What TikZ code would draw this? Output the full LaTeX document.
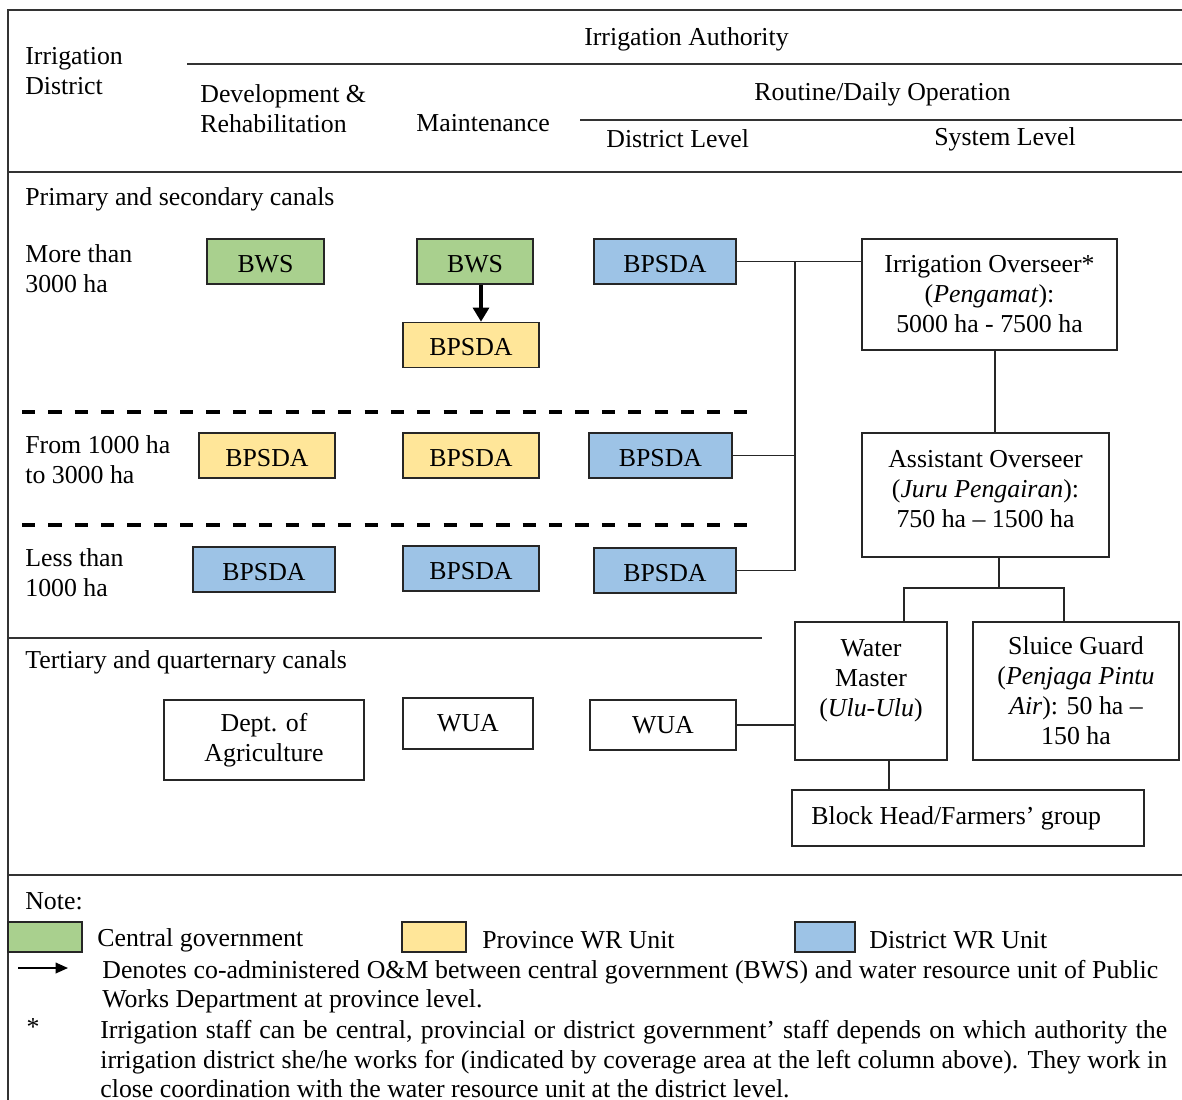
\documentclass[tikz,border=0pt]{standalone}
\usepackage{fontspec}
\setmainfont{Liberation Serif}
\usepackage{xcolor}
\usetikzlibrary{arrows.meta}
\definecolor{centralgreen}{HTML}{A9D08E}
\definecolor{provinceyellow}{HTML}{FFE699}
\definecolor{districtblue}{HTML}{9DC3E6}
\tikzset{
  unitnode/.style={rectangle,draw=black!85,line width=0.9pt,
    minimum height=0.9cm,inner sep=1pt,text height=12pt,text depth=0pt},
  centralnode/.style={unitnode,fill=centralgreen},
  provincenode/.style={unitnode,fill=provinceyellow},
  districtnode/.style={unitnode,fill=districtblue},
  staffnode/.style={rectangle,draw=black!85,line width=0.9pt,
    inner sep=1pt,align=center},
  textnode/.style={inner sep=0pt,align=left,yshift=-0.04cm},
  linkedge/.style={line width=0.9pt,black!85},
  ruleedge/.style={line width=1.1pt,black!80},
  bandedge/.style={line width=2.2pt,black,dash pattern=on 7.5pt off 7.5pt},
  coedge/.style={line width=2.2pt,-{Triangle[length=8pt,width=9pt]}},
  keyedge/.style={line width=1pt,-{Triangle[length=7pt,width=6pt]}}
}

\begin{document}
\begin{tikzpicture}[x=0.02cm,y=-0.02cm,font=\fontsize{14.7pt}{17.07pt}\selectfont]
  \useasboundingbox (0,0) rectangle (1182,1099);
  \clip (0,0) rectangle (1182,1099);

  \draw[ruleedge] (1200,10) -- (8,10) -- (8,1120);
  \draw[ruleedge] (187,64) -- (1200,64);
  \draw[ruleedge] (580,120) -- (1200,120);
  \draw[ruleedge] (8,172) -- (1200,172);
  \draw[ruleedge] (8,638) -- (762,638);
  \draw[ruleedge] (8,875) -- (1200,875);
  \draw[bandedge] (22,412) -- (752,412);
  \draw[bandedge] (22,525) -- (752,525);

  \node[textnode,anchor=west] (district) at (25,69.5) {Irrigation\\District};
  \node[textnode] (authority) at (686.5,37) {Irrigation Authority};
  \node[textnode,anchor=west] (develop) at (200,107) {Development \&\\Rehabilitation};
  \node[textnode,anchor=west] (maint) at (416,121) {Maintenance};
  \node[textnode] (routine) at (882.5,92) {Routine/Daily Operation};
  \node[textnode,anchor=west] (distlevel) at (606,137) {District Level};
  \node[textnode,anchor=west] (syslevel) at (934,137) {System Level};

  \node[textnode,anchor=west] (primary) at (25,197) {Primary and secondary canals};
  \node[textnode,anchor=west] (more) at (25,266.5) {More than\\3000 ha};
  \node[textnode,anchor=west] (from) at (25,457.5) {From 1000 ha\\to 3000 ha};
  \node[textnode,anchor=west] (less) at (25,570.5) {Less than\\1000 ha};
  \node[textnode,anchor=west] (tertiary) at (25,660) {Tertiary and quarternary canals};

  \node[centralnode,minimum width=2.34cm] (b11) at (265.5,261.5) {BWS};
  \node[centralnode,minimum width=2.32cm] (b12) at (475,261.5) {BWS};
  \node[provincenode,minimum width=2.72cm] (b12p) at (471,345) {BPSDA};
  \node[districtnode,minimum width=2.84cm] (b13) at (665,261.5) {BPSDA};
  \node[provincenode,minimum width=2.72cm] (b21) at (267,455.5) {BPSDA};
  \node[provincenode,minimum width=2.72cm] (b22) at (471,455.5) {BPSDA};
  \node[districtnode,minimum width=2.86cm] (b23) at (660.5,455.5) {BPSDA};
  \node[districtnode,minimum width=2.84cm] (b31) at (264,569.5) {BPSDA};
  \node[districtnode,minimum width=2.72cm] (b32) at (471,568.5) {BPSDA};
  \node[districtnode,minimum width=2.84cm] (b33) at (665,570.5) {BPSDA};

  \node[staffnode,minimum width=4cm,minimum height=1.6cm] (agri) at (264,740) {Dept. of\\Agriculture};
  \node[staffnode,minimum width=2.6cm,minimum height=1.02cm] (w2) at (468,723.5) {WUA};
  \node[staffnode,minimum width=2.92cm,minimum height=1cm] (w3) at (663,725) {WUA};

  \node[staffnode,minimum width=5.1cm,minimum height=2.22cm] (overseer) at (989.5,294.5)
    {Irrigation Overseer*\\(\textit{Pengamat}):\\5000 ha - 7500 ha};
  \node[staffnode,minimum width=4.94cm,minimum height=2.48cm] (assist) at (985.5,495) {};
  \node[textnode,align=center] (assisttxt) at (985.5,487)
    {Assistant Overseer\\(\textit{Juru Pengairan}):\\750 ha -- 1500 ha};
  \node[staffnode,minimum width=3.04cm,minimum height=2.76cm] (water) at (871,691) {};
  \node[textnode,align=center] (watertxt) at (871,678.5) {Water\\Master\\(\textit{Ulu-Ulu})};
  \node[staffnode,minimum width=4.12cm,minimum height=2.76cm] (sluice) at (1076,691)
    {Sluice Guard\\(\textit{Penjaga Pintu}\\\textit{Air}): 50 ha --\\150 ha};
  \node[staffnode,minimum width=7.04cm,minimum height=1.12cm] (block) at (968,818) {};
  \node[textnode,anchor=west] (blocktxt) at (811,816) {Block Head/Farmers’ group};

  \coordinate (trunk) at (795,0);
  \coordinate (fork) at (999,588);
  \draw[coedge] ([xshift=0.12cm]b12.south) -- ([xshift=0.12cm]b12.south |- b12p.north);
  \draw[linkedge] (b13.east) -- (b13.east -| overseer.west);
  \draw[linkedge] (b23.east) -- (b23.east -| trunk);
  \draw[linkedge] (b33.east) -| (trunk |- b13.east);
  \draw[linkedge] ([xshift=0.11cm]overseer.south) -- ([xshift=0.11cm]overseer.south |- assist.north);
  \draw[linkedge] (fork |- assist.south) -- (fork);
  \draw[linkedge] (fork) -| ([xshift=0.66cm]water.north);
  \draw[linkedge] (fork) -| ([xshift=-0.24cm]sluice.north);
  \draw[linkedge] (w3.east) -- (w3.east -| water.west);
  \draw[linkedge] ([xshift=0.36cm]water.south) -- ([xshift=0.36cm]water.south |- block.north);

  \node[textnode,anchor=west] (note) at (25,899) {Note:};
  \node[centralnode,minimum width=1.48cm,minimum height=0.6cm] (keycentral) at (45,937) {};
  \node[textnode,anchor=west] (keycentraltxt) at (97,938) {Central government};
  \node[provincenode,minimum width=1.28cm,minimum height=0.6cm] (keyprov) at (434,937) {};
  \node[textnode,anchor=west] (keyprovtxt) at (482,938) {Province WR Unit};
  \node[districtnode,minimum width=1.2cm,minimum height=0.6cm] (keydist) at (825,937) {};
  \node[textnode,anchor=west] (keydisttxt) at (869,938) {District WR Unit};
  \coordinate (keytail) at (18,968);
  \coordinate (keyhead) at (68,968);
  \draw[keyedge] (keytail) -- (keyhead);
  \node[textnode,anchor=west] (coline) at (102,970)
    {\makebox[21.12cm][s]{Denotes co-administered O\&M between central government (BWS) and water resource unit of Public}};
  \node[textnode,anchor=west] (colinetwo) at (102,999) {Works Department at province level.};
  \node[textnode] (star) at (33,1025) {*};
  \node[textnode,anchor=west] (staffline) at (100,1030)
    {\makebox[21.34cm][s]{Irrigation staff can be central, provincial or district government' staff depends on which authority the}};
  \node[textnode,anchor=west] (stafflinetwo) at (100,1060)
    {\makebox[21.34cm][s]{irrigation district she/he works for (indicated by coverage area at the left column above). They work in}};
  \node[textnode,anchor=west] (stafflinethree) at (100,1087)
    {close coordination with the water resource unit at the district level.};
\end{tikzpicture}
\end{document}
